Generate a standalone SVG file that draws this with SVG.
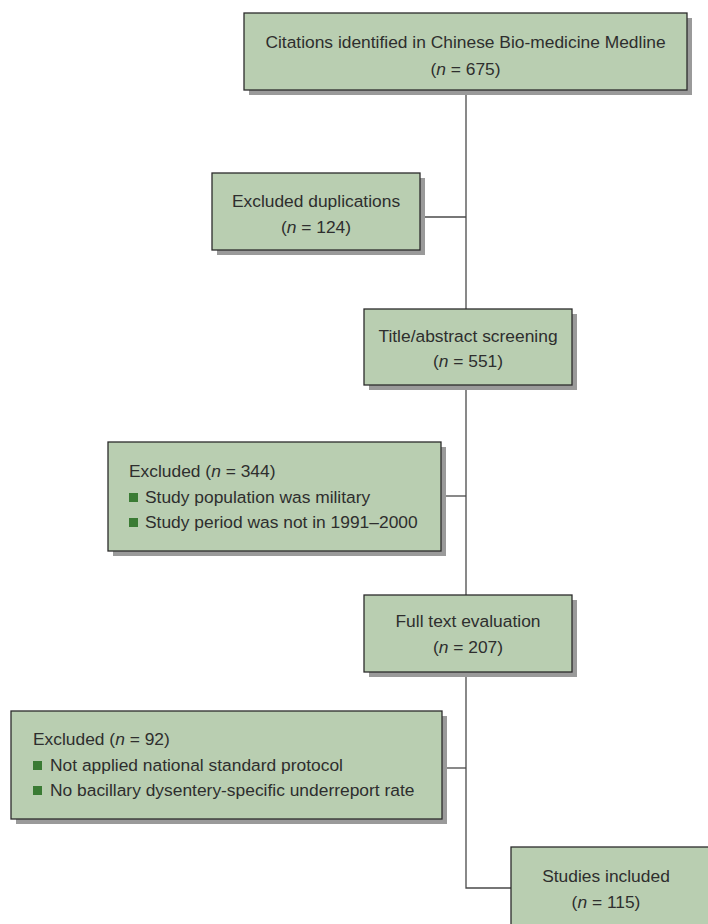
<svg xmlns="http://www.w3.org/2000/svg" width="708" height="924" viewBox="0 0 708 924">
<style>
.box{fill:#b9ceb1;stroke:#2b2b2b;stroke-width:1.3}
.sh{fill:#9a9a9a}
.t{font-family:"Liberation Sans",Arial,sans-serif;font-size:17.4px;fill:#2e2e2e}
.c{text-anchor:middle}
.i{font-style:italic}
.bul{fill:#3a7b34}
.conn{fill:none;stroke:#4a4a4a;stroke-width:1.3}
</style>
<rect width="708" height="924" fill="#ffffff"/>
<g id="connectors">
<path class="conn" d="M466,90 V309"/>
<path class="conn" d="M420,217 H466"/>
<path class="conn" d="M466,385 V595"/>
<path class="conn" d="M441,496 H466"/>
<path class="conn" d="M466,672 V888 H511"/>
<path class="conn" d="M442,768 H466"/>
</g>
<g id="citations">
<rect class="sh" x="249" y="18" width="443" height="77"/>
<rect class="box" x="244" y="13" width="443" height="77"/>
<text class="t c" x="465.5" y="48">Citations identified in Chinese Bio-medicine Medline</text>
<text class="t c" x="465.5" y="75">(<tspan class="i">n</tspan> = 675)</text>
</g>
<g id="duplications">
<rect class="sh" x="217" y="178" width="208" height="77"/>
<rect class="box" x="212" y="173" width="208" height="77"/>
<text class="t c" x="316" y="207">Excluded duplications</text>
<text class="t c" x="316" y="233">(<tspan class="i">n</tspan> = 124)</text>
</g>
<g id="screening">
<rect class="sh" x="369" y="314" width="208" height="76"/>
<rect class="box" x="364" y="309" width="208" height="76"/>
<text class="t c" x="468" y="342">Title/abstract screening</text>
<text class="t c" x="468" y="367">(<tspan class="i">n</tspan> = 551)</text>
</g>
<g id="excluded344">
<rect class="sh" x="113" y="447" width="333" height="109"/>
<rect class="box" x="108" y="442" width="333" height="109"/>
<text class="t" x="129" y="477">Excluded (<tspan class="i">n</tspan> = 344)</text>
<rect class="bul" x="129" y="493" width="9" height="9"/>
<text class="t" x="145" y="503">Study population was military</text>
<rect class="bul" x="129" y="518" width="9" height="9"/>
<text class="t" x="145" y="528">Study period was not in 1991–2000</text>
</g>
<g id="fulltext">
<rect class="sh" x="369" y="600" width="208" height="77"/>
<rect class="box" x="364" y="595" width="208" height="77"/>
<text class="t c" x="468" y="627">Full text evaluation</text>
<text class="t c" x="468" y="653">(<tspan class="i">n</tspan> = 207)</text>
</g>
<g id="excluded92">
<rect class="sh" x="16" y="716" width="431" height="108"/>
<rect class="box" x="11" y="711" width="431" height="108"/>
<text class="t" x="33" y="745">Excluded (<tspan class="i">n</tspan> = 92)</text>
<rect class="bul" x="33" y="761" width="9" height="9"/>
<text class="t" x="50" y="771">Not applied national standard protocol</text>
<rect class="bul" x="33" y="786" width="9" height="9"/>
<text class="t" x="50" y="796">No bacillary dysentery-specific underreport rate</text>
</g>
<g id="included">
<rect class="box" x="511" y="847" width="205" height="90"/>
<text class="t c" x="606" y="882">Studies included</text>
<text class="t c" x="606" y="908">(<tspan class="i">n</tspan> = 115)</text>
</g>
</svg>
